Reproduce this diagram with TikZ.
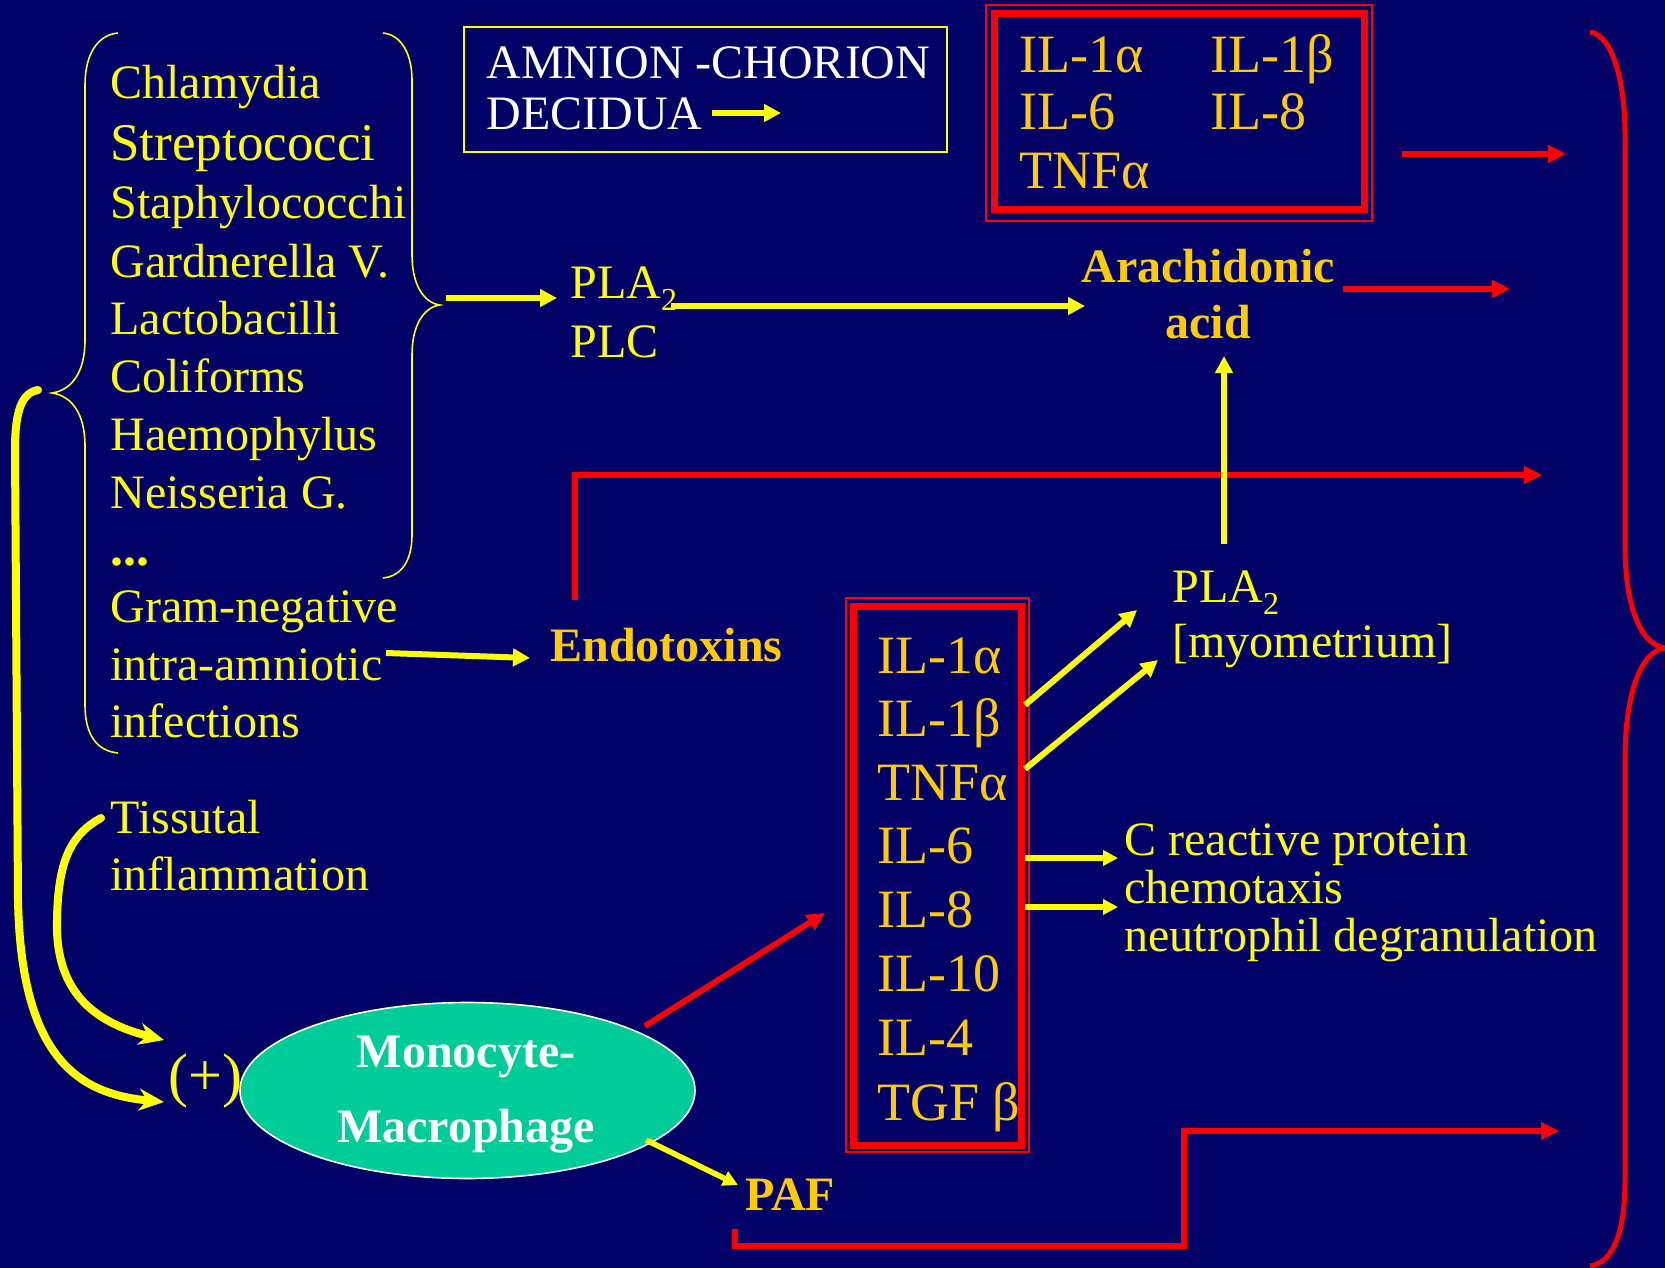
\documentclass[tikz,border=0pt]{standalone}
\usepackage{fontspec}
\setmainfont{Liberation Serif}
\usetikzlibrary{arrows.meta,shapes.geometric}
\definecolor{bg}{RGB}{0,0,102}
\definecolor{ylw}{RGB}{255,255,0}
\definecolor{org}{RGB}{255,204,0}
\definecolor{rd}{RGB}{255,0,0}
\definecolor{tealc}{RGB}{0,204,153}
\newcommand{\subtwo}{\raisebox{-6pt}{\fontsize{16}{16}\selectfont 2}}
\begin{document}
\begin{tikzpicture}[x=0.5pt,y=-0.5pt,
  txt/.style={anchor=base west,inner sep=0pt,font=\fontsize{24}{29}\selectfont,text=ylw},
  iltxt/.style={anchor=base west,inner sep=0pt,font=\fontsize{27}{32}\selectfont,text=org},
  boldtxt/.style={inner sep=0pt,font=\fontsize{24}{29}\selectfont\bfseries,text=org},
  whitetxt/.style={anchor=base west,inner sep=0pt,font=\fontsize{24}{29}\selectfont,text=white},
  monotxt/.style={anchor=base,inner sep=0pt,font=\fontsize{24}{29}\selectfont\bfseries,text=white},
  yarrow/.style={draw=ylw,line width=3pt,-{Triangle[length=8.5pt,width=8.5pt]}},
  ysmall/.style={draw=ylw,line width=2.8pt,-{Triangle[length=7.5pt,width=7.5pt]}},
  rarrow/.style={draw=rd,line width=3pt,-{Triangle[length=9pt,width=8.5pt]}},
  thinbrace/.style={draw=ylw,line width=0.8pt},
  thickcurve/.style={draw=ylw,line width=4pt,line cap=round,-{Stealth[length=12.5pt,width=11pt,inset=4pt]}}
]
\fill[bg] (0,0) rectangle (1665,1268);
\useasboundingbox (0,0) rectangle (1665,1268);

% ---- left list
\node[txt] (s1) at (110,98) {Chlamydia};
\node[txt,font=\fontsize{26.5}{30}\selectfont] (s2) at (110,161) {Streptococci};
\foreach \t/\y [count=\i from 3] in {Staphylococchi/218,Gardnerella V./277,Lactobacilli/334,Coliforms/392,Haemophylus/450,Neisseria G./508}
  \node[txt] (s\i) at (110,\y) {\t};
\node[txt] (dots) at (110,565) {\bfseries\fontsize{26}{29}\selectfont ...};
\node[txt] (g1) at (110,622) {Gram-negative};
\node[txt] (g2) at (110,680) {intra-amniotic};
\node[txt] (g3) at (110,737) {infections};

% braces
\draw[thinbrace] (118,33) .. controls (97,35) and (85,55) .. (85,85) -- (85,340)
  .. controls (85,372) and (72,390) .. (52,393) .. controls (72,396) and (85,414) .. (85,446)
  -- (85,705) .. controls (85,735) and (97,751) .. (118,753);
\draw[thinbrace] (383,33) .. controls (402,35) and (412,55) .. (412,80) -- (412,255)
  .. controls (412,285) and (424,303) .. (440,305) .. controls (424,307) and (412,325) .. (412,355)
  -- (412,535) .. controls (412,560) and (402,576) .. (383,578);
\coordinate (btip) at (446,298);

% ---- amnion box
\node[draw=ylw,line width=1pt,minimum width=241.5pt,minimum height=62.5pt,inner sep=0pt] (amnbox) at (705.5,89.5) {};
\node[whitetxt] (amn1) at (486,79) {AMNION -CHORION};
\node[whitetxt] (amn2) at (486,130) {DECIDUA};
\coordinate (amnA) at (712,113);
\coordinate (amnB) at (781,113);
\draw[yarrow] (amnA) -- (amnB);

% ---- top cytokine box
\node[draw=rd,line width=0.8pt,minimum width=193pt,minimum height=108pt,inner sep=0pt] (topout) at (1179,113) {};
\node[draw=rd,line width=3.5pt,minimum width=185pt,minimum height=98pt,inner sep=0pt] (topin) at (1179,111.5) {};
\node[iltxt] (t1) at (1019,73) {IL-1α};
\node[iltxt] (t2) at (1210,73) {IL-1β};
\node[iltxt] (t3) at (1019,130) {IL-6};
\node[iltxt] (t4) at (1210,130) {IL-8};
\node[iltxt] (t5) at (1019,188) {TNFα};
\coordinate (r1a) at (1402,154);
\coordinate (r1b) at (1566,154);
\draw[rarrow] (r1a) -- (r1b);

% ---- PLA2 / PLC
\node[txt] (pla) at (570,298) {PLA\subtwo};
\node[txt] (plc) at (570,357) {PLC};
\coordinate (plaT) at (557,298);
\draw[yarrow] (btip) -- (plaT);
\coordinate (plaR) at (671,306);
\coordinate (araL) at (1085,306);
\draw[yarrow] (plaR) -- (araL);

% arachidonic acid
\node[boldtxt,anchor=base] (ara1) at (1208,282) {Arachidonic};
\node[boldtxt,anchor=base] (ara2) at (1208,338) {acid};
\coordinate (r2a) at (1343,289);
\coordinate (r2b) at (1510,289);
\draw[rarrow] (r2a) -- (r2b);

% ---- endotoxins
\node[boldtxt,anchor=base west] (endo) at (550,661) {Endotoxins};
\coordinate (gA) at (386,653);
\coordinate (gB) at (530,658);
\draw[yarrow] (gA) -- (gB);
\coordinate (e0) at (575,600);
\coordinate (e1) at (575,475);
\coordinate (e2) at (1542,475);
\draw[rarrow] (e0) -- (e1) -- (e2);

% ---- IL column box
\node[draw=rd,line width=0.8pt,minimum width=91.5pt,minimum height=277pt,inner sep=0pt] (ilout) at (937.5,875) {};
\node[draw=rd,line width=3.5pt,minimum width=83.75pt,minimum height=269.25pt,inner sep=0pt] (ilin) at (937.25,875.75) {};
\foreach \t/\y [count=\i] in {IL-1α/673,IL-1β/736,TNFα/800,IL-6/863,IL-8/927,IL-10/991,IL-4/1055,TGF β/1120}
  \node[iltxt] (c\i) at (877,\y) {\t};

% ---- PLA2 myometrium
\node[txt] (plm1) at (1172,602) {PLA\subtwo};
\node[txt] (plm2) at (1172,657) {[myometrium]};
\coordinate (vA) at (1224,544);
\coordinate (vB) at (1224,356);
\draw[yarrow] (vA) -- (vB);
\coordinate (d1a) at (1025,705);
\coordinate (d1b) at (1137,610);
\coordinate (d2a) at (1025,769);
\coordinate (d2b) at (1158,660);
\draw[yarrow] (d1a) -- (d1b);
\draw[yarrow] (d2a) -- (d2b);

% ---- C reactive protein
\node[txt] (cr1) at (1124,855) {C reactive protein};
\node[txt] (cr2) at (1124,903) {chemotaxis};
\node[txt] (cr3) at (1124,951) {neutrophil degranulation};
\coordinate (h1a) at (1025,858);
\coordinate (h1b) at (1118,858);
\coordinate (h2a) at (1025,907);
\coordinate (h2b) at (1118,907);
\draw[ysmall] (h1a) -- (h1b);
\draw[ysmall] (h2a) -- (h2b);

% ---- tissutal inflammation
\node[txt] (tis1) at (110,833) {Tissutal};
\node[txt] (tis2) at (110,890) {inflammation};
\node[anchor=base west,inner sep=0pt,font=\fontsize{30}{34}\selectfont,text=ylw] (plus) at (168,1095) {(+)};

% ---- monocyte-macrophage
\node[ellipse,draw=white,line width=0.8pt,fill=tealc,minimum width=227.5pt,minimum height=88pt,inner sep=0pt] (mono) at (467.5,1090.5) {};
\node[monotxt] (mono1) at (466,1067) {Monocyte-};
\node[monotxt] (mono2) at (466,1142) {Macrophage};

% thick curves
\coordinate (k1s) at (101,818);
\coordinate (k1e) at (164,1040);
\draw[thickcurve] (k1s) .. controls (70,835) and (58,862) .. (57,920) .. controls (55,990) and (92,1022) .. (k1e);
\coordinate (k2s) at (38,390);
\coordinate (k2e) at (164,1102);
\draw[thickcurve] (k2s) .. controls (22,393) and (15,410) .. (15,450) -- (18,900) .. controls (21,1060) and (80,1094) .. (k2e);

% ---- PAF
\node[boldtxt,anchor=base west] (paf) at (745,1210) {PAF};
\coordinate (pA) at (646,1140);
\coordinate (pB) at (738,1185);
\draw[ysmall] (pA) -- (pB);
\coordinate (mA) at (645,1026);
\coordinate (mB) at (825,913);
\draw[rarrow] (mA) -- (mB);
\coordinate (q0) at (735,1229);
\coordinate (q1) at (735,1246);
\coordinate (q2) at (1184,1246);
\coordinate (q3) at (1184,1131);
\coordinate (q4) at (1559,1131);
\draw[rarrow] (q0) -- (q1) -- (q2) -- (q3) -- (q4);

% ---- red right brace
\draw[rd,line width=2.5pt] (1590,32) .. controls (1612,35) and (1625,80) .. (1625,135) -- (1625,545)
  .. controls (1625,610) and (1642,645) .. (1665,648) .. controls (1642,651) and (1625,690) .. (1625,760)
  -- (1625,1180) .. controls (1625,1235) and (1612,1263) .. (1590,1266);
\end{tikzpicture}
\end{document}
